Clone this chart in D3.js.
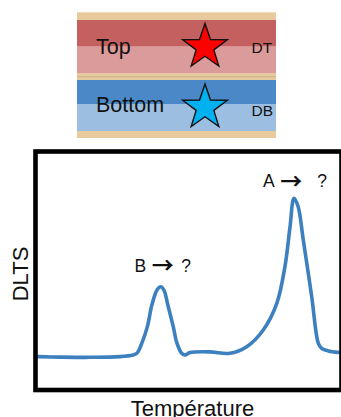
<!DOCTYPE html>
<html>
<head>
<meta charset="utf-8">
<script src="https://cdn.jsdelivr.net/npm/d3@7"></script>
<style>
html,body{margin:0;padding:0;background:#fff;}
svg{display:block;font-family:Arial,"Liberation Sans",sans-serif;}
</style>
</head>
<body>
<svg id="chart" width="341" height="417"></svg>
<script>
// ---- data ----
const temperature = [0.2, 7.5, 17.4, 27.4, 31.7, 33.1, 34.7, 36.5, 38.0, 39.7, 40.9, 42.0, 43.3, 45.1, 46.3, 47.9, 49.0, 50.7, 57.3, 63.9, 69.5, 75.0, 79.5, 82.2, 83.9, 85.2, 86.6, 88.3, 91.1, 93.3, 94.4, 96.6, 99.9];
const dlts        = [13.3, 13.1, 13.0, 13.3, 14.0, 14.8, 19.1, 26.0, 35.2, 41.5, 42.9, 41.5, 35.2, 26.0, 19.1, 14.7, 14.0, 15.0, 15.3, 14.7, 17.5, 24.6, 35.9, 51.4, 68.3, 80.4, 76.8, 62.7, 38.7, 18.9, 16.8, 15.7, 15.1];
const peakLabels  = ["B \u2192 ?", "A \u2192  ?"];
const peakIndex   = [10, 25];
const layerNames  = ["Top", "Bottom"];
const defectNames = ["DT", "DB"];
const axisTitles  = ["Température", "DLTS"];

const svg = d3.select("#chart");

// ---- layer diagram ----
const dx0 = 77, dx1 = 276;
const bands = [
  {y0: 12.3, y1: 20,   c: "#e9ca9c"},
  {y0: 20,   y1: 46.7, c: "#c46060"},
  {y0: 46.7, y1: 73,   c: "#dc9b9b"},
  {y0: 73,   y1: 80,   c: "#e6c99e"},
  {y0: 80,   y1: 104,  c: "#4a88c7"},
  {y0: 104,  y1: 131,  c: "#9cbfe1"},
  {y0: 131,  y1: 138,  c: "#e9ca9c"}
];
svg.append("g").selectAll("rect").data(bands).join("rect")
  .attr("x", dx0).attr("width", dx1 - dx0)
  .attr("y", d => d.y0).attr("height", d => d.y1 - d.y0)
  .attr("fill", d => d.c);
svg.append("rect").attr("x", dx0).attr("width", dx1 - dx0)
  .attr("y", 76).attr("height", 1.2).attr("fill", "#cfb58c");

const layerCY = [53.5, 111.5];
svg.append("g").selectAll("text").data(layerNames).join("text")
  .attr("x", 96).attr("y", (d, i) => layerCY[i])
  .attr("font-size", 21.5).attr("fill", "#111").text(d => d);
const defCY = [52.5, 116];
svg.append("g").selectAll("text").data(defectNames).join("text")
  .attr("x", 251.5).attr("y", (d, i) => defCY[i])
  .attr("font-size", 15.5).attr("fill", "#111").text(d => d);

function starPath(cx, cy, R, r) {
  const pts = [];
  for (let k = 0; k < 10; k++) {
    const a = -Math.PI / 2 + k * Math.PI / 5;
    const rad = k % 2 === 0 ? R : r;
    pts.push([cx + rad * Math.cos(a), cy + rad * Math.sin(a)]);
  }
  return d3.line()(pts) + "Z";
}
const starCol = ["#ff0000", "#00b0f0"];
const starCY = [47, 107.5];
starCol.forEach((c, i) => {
  svg.append("path").attr("d", starPath(205, starCY[i], 23.5, 9.3))
    .attr("fill", c).attr("stroke", "#111").attr("stroke-width", 1.4)
    .attr("stroke-linejoin", "miter");
});

// ---- DLTS plot ----
const x = d3.scaleLinear().domain([0, 100]).range([37.5, 338.5]);
const y = d3.scaleLinear().domain([0, 100]).range([388, 152]);

const pts = temperature.map((t, i) => [t, dlts[i]]);
const line = d3.line().x(d => x(d[0])).y(d => y(d[1])).curve(d3.curveCatmullRom.alpha(0.5));
svg.append("path").datum(pts).attr("d", line)
  .attr("fill", "none").attr("stroke", "#3d80c0").attr("stroke-width", 3.6)
  .attr("stroke-linejoin", "round").attr("stroke-linecap", "round");

svg.append("rect").attr("x", 35.5).attr("y", 151.5).attr("width", 306).attr("height", 238.5)
  .attr("fill", "none").attr("stroke", "#000").attr("stroke-width", 4.6);

// peak labels: letter, arrow glyph, question mark
const labelDy = [-15.2, -11.2];
const labelDx = [-26, -31];
const qGap = [7.5, 15];
peakLabels.forEach((lab, i) => {
  const parts = lab.split(" ").filter(s => s.length);
  const t = svg.append("text")
    .attr("x", x(temperature[peakIndex[i]]) + labelDx[i])
    .attr("y", y(dlts[peakIndex[i]]) + labelDy[i])
    .attr("font-size", 17.5).attr("fill", "#111");
  t.append("tspan").text(parts[0]);
  t.append("tspan").attr("dx", 5.5).attr("dy", 1.5)
    .attr("font-family", "Noto Sans CJK JP").attr("font-size", 22).attr("font-weight", 700).text(parts[1]);
  t.append("tspan").attr("dx", qGap[i]).attr("dy", -1.5).text(parts[2]);
});

svg.append("text").attr("x", 192.5).attr("y", 416)
  .attr("text-anchor", "middle").attr("font-size", 22).attr("fill", "#111").text(axisTitles[0]);
svg.append("text").attr("transform", "translate(28.3,274) rotate(-90)")
  .attr("text-anchor", "middle").attr("font-size", 22).attr("fill", "#111").text(axisTitles[1]);
</script>
</body>
</html>
